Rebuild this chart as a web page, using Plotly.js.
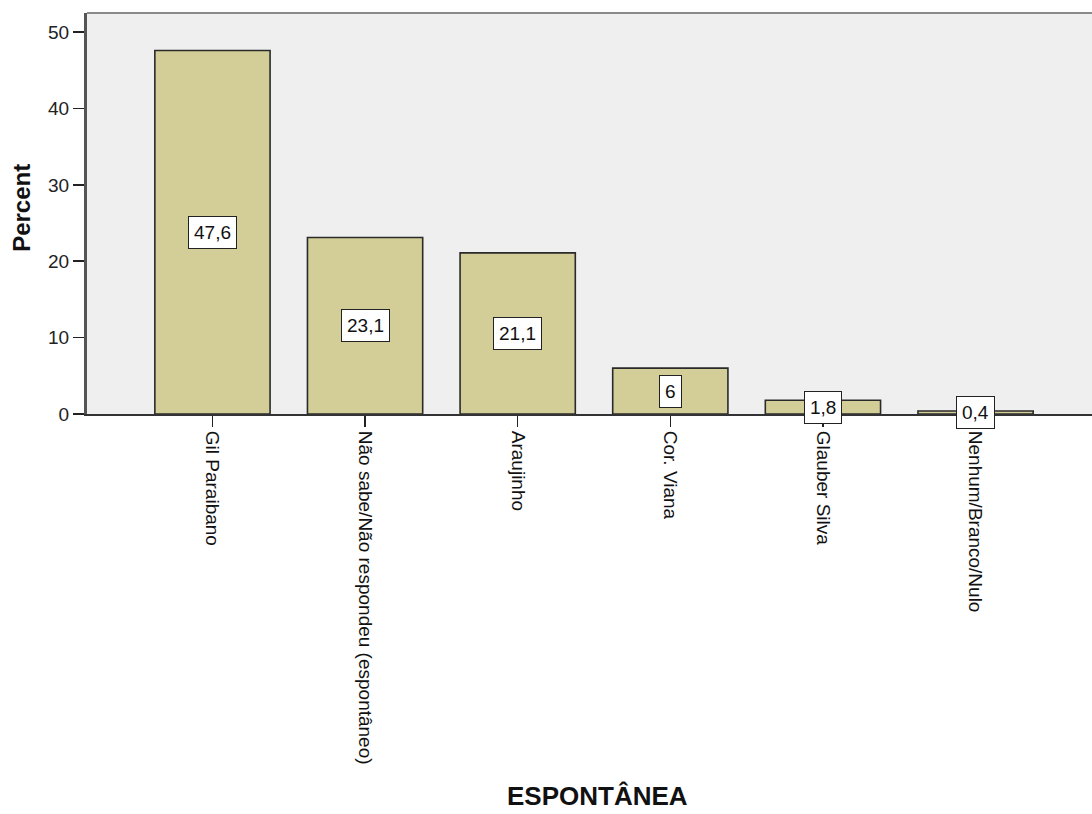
<!DOCTYPE html>
<html>
<head>
<meta charset="utf-8">
<script src="https://cdn.plot.ly/plotly-3.0.1.min.js"></script>
<style>html,body{margin:0;padding:0;background:#fff;}#chart{width:1092px;height:814px;}</style>
</head>
<body>
<div id="chart"></div>
<script>
const categories = ["Gil Paraibano", "Não sabe/Não respondeu (espontâneo)", "Araujinho", "Cor. Viana", "Glauber Silva", "Nenhum/Branco/Nulo"];
const percents = [47.6, 23.1, 21.1, 6, 1.8, 0.4];
const valueLabels = ["47,6", "23,1", "21,1", "6", "1,8", "0,4"];
const yTicks = [0, 10, 20, 30, 40, 50];

const idx = categories.map((c, i) => i);

const trace = {
  type: "bar",
  x: idx,
  y: percents,
  width: 0.755,
  marker: { color: "#d3ce97", line: { color: "#2a2a2a", width: 1.6 } },
  hoverinfo: "none"
};

const labelAnns = percents.map((v, i) => ({
  x: i, y: v / 2, xref: "x", yref: "y",
  text: valueLabels[i], showarrow: false,
  font: { family: "Liberation Sans, Arial, sans-serif", size: 19, color: "#111" },
  bgcolor: "#ffffff", bordercolor: "#222", borderwidth: 1, borderpad: 5
}));

const layout = {
  width: 1092, height: 814,
  margin: { l: 87, r: 0, t: 13, b: 400 },
  paper_bgcolor: "#ffffff",
  plot_bgcolor: "#efefef",
  showlegend: false,
  bargap: 0,
  xaxis: {
    range: [-0.822, 5.763],
    tickmode: "array", tickvals: idx, ticktext: categories,
    tickangle: 90,
    ticks: "outside", ticklen: 11, tickwidth: 1.5, tickcolor: "#222",
    showgrid: false, zeroline: false,
    showline: true, linecolor: "#333", linewidth: 2,
    tickfont: { family: "Liberation Sans, Arial, sans-serif", size: 19, color: "#111" },
    fixedrange: true
  },
  yaxis: {
    range: [0, 52.5],
    tickmode: "array", tickvals: yTicks, ticktext: yTicks.map(String),
    ticks: "outside", ticklen: 11, tickwidth: 1.5, tickcolor: "#222",
    showgrid: false, zeroline: false,
    showline: true, linecolor: "#555", linewidth: 3,
    tickfont: { family: "Liberation Sans, Arial, sans-serif", size: 19, color: "#222" },
    fixedrange: true
  },
  shapes: [
    { type: "line", xref: "paper", yref: "paper", x0: 0, x1: 1, y0: 1, y1: 1,
      line: { color: "#8a8a8a", width: 2 } }
  ],
  annotations: labelAnns.concat([
    { xref: "paper", yref: "paper", x: -0.0647, y: 0.514, text: "<b>Percent</b>",
      textangle: -90, showarrow: false, xanchor: "center", yanchor: "middle",
      font: { family: "Liberation Sans, Arial, sans-serif", size: 24, color: "#111" } },
    { xref: "paper", yref: "paper", x: 0.5075, y: -0.953, text: "<b>ESPONTÂNEA</b>",
      showarrow: false, xanchor: "center", yanchor: "middle",
      font: { family: "Liberation Sans, Arial, sans-serif", size: 26, color: "#111" } }
  ])
};

Plotly.newPlot("chart", [trace], layout, { staticPlot: true, displayModeBar: false });
</script>
</body>
</html>
